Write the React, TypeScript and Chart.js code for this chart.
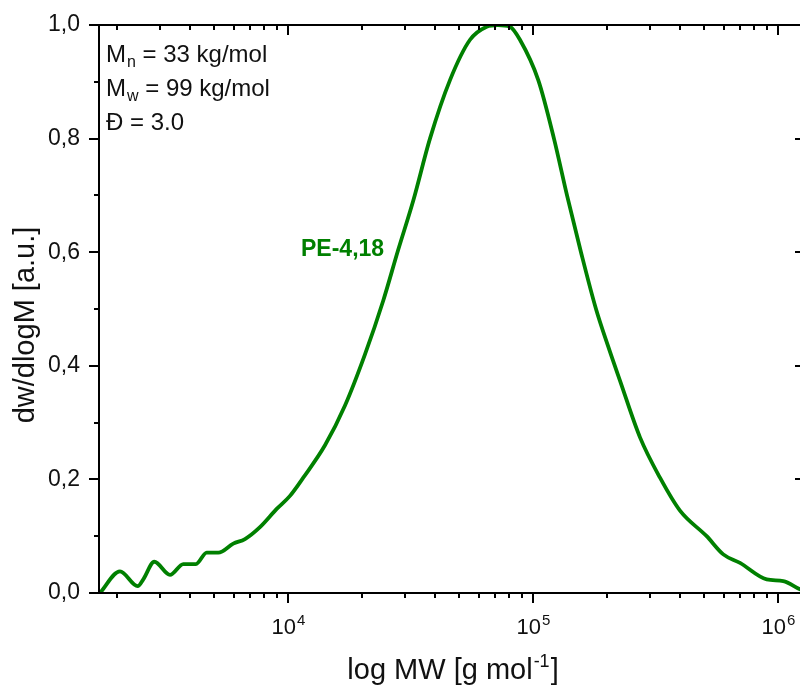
import React, { useEffect, useRef } from "react";
import { Chart, registerables } from "chart.js";

Chart.register(...registerables);

// Molecular weight (g/mol) and normalised distribution dw/dlogM
const molWeights = [
  1709, 2062, 2435, 2567, 2847, 3299, 3739, 4212, 4658, 5195, 5980, 6675, 7685,
  8993, 10190, 11545, 14160, 17090, 20620, 24490, 28120, 32470, 37980, 45840,
  55340, 64710, 71940, 80560, 88480, 105100, 121800, 137700, 157000, 180800,
  202400, 226500, 273400, 329900, 398100, 511600, 598000, 699700, 899300,
  1051000, 1229000, 1289000,
];
const dwValues = [
  0.0, 0.038, 0.012, 0.024, 0.055, 0.032, 0.051, 0.051, 0.071, 0.071, 0.087,
  0.095, 0.116, 0.148, 0.171, 0.203, 0.26, 0.33, 0.42, 0.515, 0.603, 0.691,
  0.8, 0.903, 0.974, 0.997, 1.0, 0.997, 0.974, 0.903, 0.8, 0.7, 0.6, 0.5,
  0.435, 0.374, 0.274, 0.203, 0.145, 0.1, 0.068, 0.053, 0.024, 0.021, 0.0065,
  0.003,
];

const xMin = 1693;
const xMax = 1289000;
const xMajorTicks = [1e4, 1e5, 1e6];
const xTickExponents = ["4", "5", "6"];
const yMajorTicks = [0, 0.2, 0.4, 0.6, 0.8, 1.0];
const yMinorTicks = [0.1, 0.3, 0.5, 0.7, 0.9];
const yTickLabels = ["0,0", "0,2", "0,4", "0,6", "0,8", "1,0"];

const xTitleMain = "log MW [g mol";
const xTitleSup = "-1";
const xTitleEnd = "]";
const yTitle = "dw/dlogM [a.u.]";

const annotationMain = ["M", "M", "Đ = 3.0"];
const annotationSub = ["n", "w", ""];
const annotationRest = [" = 33 kg/mol", " = 99 kg/mol", ""];
const seriesLabel = "PE-4,18";

const lineColor = "#008000";
const textColor = "#111111";
const FONT = '"Liberation Sans", Arial, sans-serif';

const framePlugin = {
  id: "framePlugin",
  afterDraw(chart: any) {
    const { ctx, chartArea, scales } = chart;
    const { left, right, top, bottom } = chartArea;
    const xs = scales.x;
    const ys = scales.y;
    ctx.save();
    ctx.strokeStyle = "#000";
    ctx.lineWidth = 2;
    ctx.strokeRect(left, top, right - left, bottom - top);

    // x ticks (log minor ticks)
    ctx.beginPath();
    for (let e = 3; e <= 6; e++) {
      for (let k = 1; k <= 9; k++) {
        const v = k * Math.pow(10, e);
        if (v < xMin || v > xMax) continue;
        const px = Math.round(xs.getPixelForValue(v));
        const len = k === 1 ? 10 : 5;
        ctx.moveTo(px, bottom);
        ctx.lineTo(px, bottom + len);
        ctx.moveTo(px, top);
        ctx.lineTo(px, top + len);
      }
    }
    // y ticks
    yMajorTicks.forEach((v) => {
      const py = Math.round(ys.getPixelForValue(v));
      ctx.moveTo(left, py);
      ctx.lineTo(left - 10, py);
      ctx.moveTo(right, py);
      ctx.lineTo(right - 10, py);
    });
    yMinorTicks.forEach((v) => {
      const py = Math.round(ys.getPixelForValue(v));
      ctx.moveTo(left, py);
      ctx.lineTo(left - 5, py);
      ctx.moveTo(right, py);
      ctx.lineTo(right - 5, py);
    });
    ctx.stroke();

    // x tick labels: 10^n
    ctx.fillStyle = textColor;
    ctx.textBaseline = "alphabetic";
    xMajorTicks.forEach((v, i) => {
      const px = xs.getPixelForValue(v);
      ctx.font = `22px ${FONT}`;
      const w1 = ctx.measureText("10").width;
      ctx.font = `15px ${FONT}`;
      const w2 = ctx.measureText(xTickExponents[i]).width;
      const start = px - (w1 + w2) / 2;
      ctx.font = `22px ${FONT}`;
      ctx.textAlign = "left";
      ctx.fillText("10", start, 634);
      ctx.font = `15px ${FONT}`;
      ctx.fillText(xTickExponents[i], start + w1 + 1, 625);
    });

    // x title
    ctx.font = `29px ${FONT}`;
    const a = ctx.measureText(xTitleMain).width;
    const c = ctx.measureText(xTitleEnd).width;
    ctx.font = `18px ${FONT}`;
    const b = ctx.measureText(xTitleSup).width;
    const cx = 452;
    const sx = cx - (a + b + c) / 2;
    ctx.textAlign = "left";
    ctx.font = `29px ${FONT}`;
    ctx.fillText(xTitleMain, sx, 679);
    ctx.font = `18px ${FONT}`;
    ctx.fillText(xTitleSup, sx + a + 1, 667);
    ctx.font = `29px ${FONT}`;
    ctx.fillText(xTitleEnd, sx + a + b + 2, 679);

    // y title
    ctx.save();
    ctx.translate(34, 325);
    ctx.rotate(-Math.PI / 2);
    ctx.textAlign = "center";
    ctx.font = `29px ${FONT}`;
    ctx.fillText(yTitle, 0, 0);
    ctx.restore();

    // annotations
    const baselines = [62, 96, 130];
    annotationMain.forEach((m, i) => {
      let x = 106;
      ctx.textAlign = "left";
      ctx.font = `24px ${FONT}`;
      ctx.fillText(m, x, baselines[i]);
      x += ctx.measureText(m).width;
      if (annotationSub[i]) {
        ctx.font = `16px ${FONT}`;
        ctx.fillText(annotationSub[i], x + 1, baselines[i] + 5);
        x += ctx.measureText(annotationSub[i]).width + 1;
      }
      if (annotationRest[i]) {
        ctx.font = `24px ${FONT}`;
        ctx.fillText(annotationRest[i], x, baselines[i]);
      }
    });

    // series label
    ctx.fillStyle = lineColor;
    ctx.font = `bold 23px ${FONT}`;
    ctx.textAlign = "left";
    ctx.fillText(seriesLabel, 301, 256);
    ctx.restore();
  },
};

export default function App() {
  const ref = useRef<HTMLCanvasElement | null>(null);
  useEffect(() => {
    if (!ref.current) return;
    const chart = new Chart(ref.current, {
      type: "line",
      data: {
        datasets: [
          {
            data: molWeights.map((m, i) => ({ x: m, y: dwValues[i] })),
            borderColor: lineColor,
            borderWidth: 3.8,
            pointRadius: 0,
            cubicInterpolationMode: "monotone",
            fill: false,
          },
        ],
      },
      options: {
        responsive: false,
        animation: false,
        devicePixelRatio: 1,
        layout: { padding: { left: 0, top: 25, right: 0, bottom: 0 } },
        plugins: { legend: { display: false }, tooltip: { enabled: false } },
        scales: {
          x: {
            type: "logarithmic",
            min: xMin,
            max: xMax,
            grid: { display: false, drawTicks: false },
            border: { display: false },
            ticks: { display: false },
            afterFit: (s: any) => {
              s.height = 95;
              s.paddingLeft = 0;
              s.paddingRight = 0;
            },
          },
          y: {
            min: 0,
            max: 1,
            grid: { display: false, drawTicks: false },
            border: { display: false },
            afterBuildTicks: (s: any) => {
              s.ticks = yMajorTicks.map((v) => ({ value: v }));
            },
            ticks: {
              padding: 19,
              color: textColor,
              font: { size: 23, family: FONT },
              callback: (_v: any, i: number) => yTickLabels[i],
            },
            afterFit: (s: any) => {
              s.width = 99;
              s.paddingTop = 0;
              s.paddingBottom = 0;
            },
          },
        },
      } as any,
      plugins: [framePlugin],
    });
    return () => chart.destroy();
  }, []);
  return (
    <div
      style={{
        position: "absolute",
        left: 0,
        top: 0,
        width: 800,
        height: 688,
        overflow: "hidden",
        background: "#fff",
      }}
    >
      <canvas ref={ref} width={805} height={688} style={{ display: "block" }} />
    </div>
  );
}
